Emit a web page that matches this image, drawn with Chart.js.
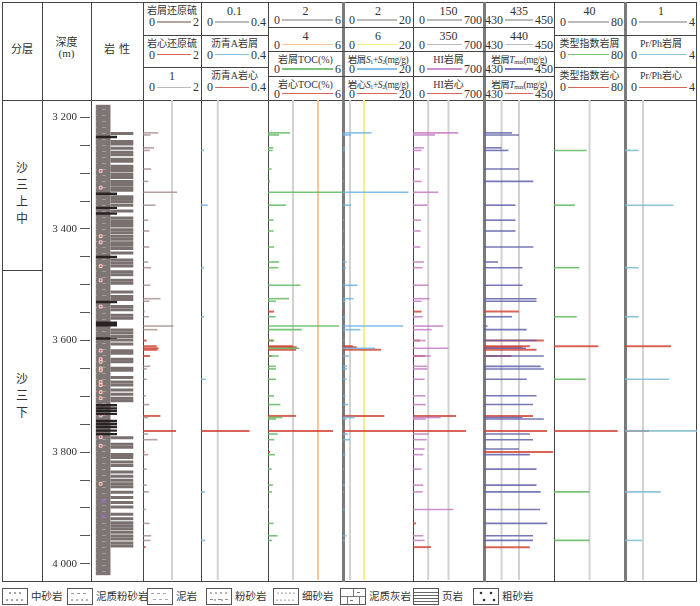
<!DOCTYPE html>
<html>
<head>
<meta charset="utf-8">
<script src="https://cdn.jsdelivr.net/npm/chart.js@4.4.0/dist/chart.umd.min.js"></script>
<style>
  body { margin: 0; background: #fff; font-family: "Liberation Serif", "Noto Sans CJK SC", serif; color: #333; }
  #page { position: relative; width: 700px; height: 606px; overflow: hidden; }
  canvas { position: absolute; }
  .cell-title { position: absolute; left: 0; width: 100%; text-align: center; white-space: nowrap; line-height: 12px; }
  .scale { position: absolute; left: 0; width: 100%; display: flex; align-items: center; font-size: 12px; line-height: 12px; box-sizing: border-box; }
  .scale .ln { flex: 1; height: 1.5px; margin: 0 2px; }
  sub { font-size: 6px; vertical-align: -1px; }
</style>
</head>
<body>
<div id="page"></div>
<script>
// ==============================
// Data
// ==============================

const DEPTH_MIN = 3186;
const DEPTH_MAX = 4012;

const depthLabels = [3200, 3400, 3600, 3800, 4000];

const zoneNames = ["沙三上中", "沙三下"];
const zoneBounds = [3186, 3474, 4012];
const zoneLabelDepth = [3338, 3701];

// lithology: sand/silt strips (long) and dark shale strips (short)
const lithoSand = [3191, 3207, 3212, 3220, 3228, 3233, 3242, 3246, 3256, 3260, 3265, 3272,
    3278, 3286, 3292, 3298, 3303, 3316, 3321, 3326, 3333, 3344, 3358, 3364, 3369, 3374,
    3381, 3387, 3394, 3400, 3407, 3412, 3418, 3427, 3441, 3447, 3453, 3464, 3470, 3481,
    3487, 3504, 3513, 3519, 3533, 3539, 3550, 3556, 3579, 3585, 3592, 3599, 3607, 3620,
    3625, 3637, 3642, 3655, 3659, 3673, 3682, 3688, 3698, 3706, 3714, 3719, 3792, 3805,
    3811, 3825, 3831, 3840, 3847, 3860, 3868, 3876, 3883, 3889, 3900, 3910, 3920, 3929,
    3943, 3952, 3960, 3966, 3972, 3979, 3986, 3992, 4000, 4006];
const lithoDark = [3198, 3310, 3338, 3349, 3435, 3524, 3565, 3570, 3596, 3728, 3734, 3739,
    3745, 3759, 3765, 3771, 3778, 3785];
const coreMarks = [3265, 3298, 3394, 3406, 3453, 3481, 3533, 3620, 3637, 3642, 3655, 3659,
    3682, 3688, 3702, 3714, 3748, 3791, 3808, 3883];
const purpleMarks = [3917, 3947];

// [depth, value]
const sulfurCut = [[3198, 0.53], [3202, 0.26], [3227, 0.38], [3232, 0.24], [3268, 0.28], [3292, 0.18],
    [3313, 1.18], [3338, 0.43], [3367, 0.18], [3388, 0.22], [3419, 0.22], [3448, 0.18], [3459, 0.28],
    [3493, 0.26], [3519, 0.6], [3524, 0.22], [3554, 0.2], [3572, 1.05], [3579, 0.5], [3650, 0.25],
    [3655, 0.13], [3675, 0.13], [3707, 0.1], [3724, 0.22], [3749, 0.18], [3781, 0.18], [3792, 0.5],
    [3821, 0.17], [3849, 0.13], [3880, 0.13], [3893, 0.2], [3927, 0.1], [3954, 0.23], [3978, 0.28],
    [3987, 0.26]];
const sulfurCore = [[3544, 0.05], [3600, 0.13], [3611, 0.47], [3615, 0.54], [3618, 0.5], [3630, 0.24],
    [3746, 0.6], [3775, 1.14], [3816, 0.05], [4000, 0.09]];

const asphaltCut = [[3232, 0.018], [3338, 0.04], [3459, 0.018], [3554, 0.018], [3675, 0.028],
    [3893, 0.024], [3987, 0.024]];
const asphaltCore = [[3775, 0.29]];

const tocCut = [[3198, 1.76], [3202, 0.88], [3227, 0.43], [3232, 0.37], [3268, 0.29], [3292, 0.16],
    [3313, 6.2], [3338, 1.44], [3367, 0.45], [3388, 0.45], [3419, 0.48], [3448, 0.9], [3459, 0.83],
    [3493, 2.6], [3519, 1.68], [3524, 0.64], [3554, 0.61], [3572, 5.68], [3579, 2.7], [3600, 0.5],
    [3615, 2.5], [3630, 0.85], [3650, 0.64], [3655, 0.64], [3675, 0.64], [3707, 0.48], [3724, 0.99],
    [3749, 1.15], [3752, 0.64], [3781, 0.77], [3792, 0.5], [3810, 0.05], [3821, 0.56], [3849, 0.29],
    [3880, 0.4], [3893, 0.32], [3927, 0.08], [3954, 0.45], [3978, 0.77], [3987, 0.32]];
const tocCore = [[3544, 0.48], [3600, 0.43], [3611, 2.0], [3613, 2.3], [3618, 2.24], [3630, 0.3],
    [3746, 2.24], [3775, 5.2], [3816, 0.16], [4000, 0.05]];

const s12Cut = [[3198, 8.2], [3202, 2.3], [3227, 0.6], [3232, 0.5], [3268, 0.2], [3292, 0.2],
    [3313, 18.7], [3338, 2.3], [3367, 0.3], [3388, 0.3], [3419, 0.3], [3448, 1.0], [3459, 0.9],
    [3493, 4.1], [3519, 3.0], [3524, 0.7], [3554, 0.7], [3572, 17.2], [3579, 5.0], [3600, 0.5],
    [3615, 9.1], [3630, 1.6], [3650, 1.2], [3655, 1.2], [3675, 1.0], [3707, 0.7], [3724, 1.5],
    [3749, 3.3], [3752, 1.0], [3781, 1.4], [3792, 2.0], [3821, 0.7], [3849, 0.3], [3880, 0.5],
    [3893, 0.3], [3927, 0.5], [3978, 1.0], [3987, 0.5]];
const s12Core = [[3544, 0.4], [3600, 0.5], [3611, 2.8], [3613, 3.9], [3618, 10.9], [3630, 0.5],
    [3746, 11.8], [3775, 20.5]];

const hiCut = [[3198, 447], [3202, 217], [3227, 108], [3232, 85], [3268, 69], [3292, 85], [3313, 250],
    [3338, 141], [3367, 79], [3388, 76], [3419, 72], [3448, 108], [3459, 95], [3493, 154], [3519, 164],
    [3524, 85], [3554, 95], [3572, 299], [3579, 184], [3600, 125], [3615, 348], [3630, 174], [3650, 141],
    [3655, 141], [3675, 115], [3707, 122], [3724, 128], [3749, 273], [3752, 125], [3781, 154],
    [3792, 135], [3810, 115], [3821, 102], [3849, 85], [3880, 102], [3893, 95], [3927, 398],
    [3978, 102], [3987, 115]];
const hiCore = [[3544, 85], [3600, 69], [3630, 118], [3746, 424], [3775, 522], [3954, 30], [4000, 177]];

const tmaxCut = [[3198, 438], [3202, 440], [3227, 435], [3232, 437], [3268, 440], [3292, 444.1],
    [3338, 439], [3367, 439], [3388, 439], [3419, 444.1], [3448, 434], [3459, 441], [3493, 441],
    [3519, 445], [3524, 445], [3554, 438], [3572, 431], [3579, 442.2], [3600, 445], [3615, 442],
    [3630, 447.1], [3650, 446.2], [3655, 447.1], [3675, 442.2], [3707, 445], [3724, 444], [3749, 441],
    [3752, 447.1], [3781, 443.1], [3792, 444], [3810, 440], [3821, 443.1], [3849, 445], [3880, 445],
    [3893, 446.2], [3927, 446], [3954, 448.1], [3978, 444], [3987, 444]];
const tmaxCore = [[3544, 440], [3600, 447.1], [3611, 443.1], [3613, 441], [3618, 445], [3630, 437.9],
    [3746, 444], [3775, 448], [3816, 449.8], [4000, 443.1]];

const typeCut = [[3232, 36.8], [3338, 23.7], [3459, 28.6], [3554, 25.6], [3675, 36], [3893, 39.8], [3987, 40]];
const typeCore = [[3611, 50], [3775, 71.8]];

const prphCut = [[3232, 0.76], [3338, 2.69], [3459, 0.76], [3554, 0.76], [3675, 2.46], [3775, 4.1],
    [3893, 1.98], [3987, 0.96]];
const prphCore = [[3611, 2.56], [3775, 1.35]];

const legendNames = ["中砂岩", "泥质粉砂岩", "泥岩", "粉砂岩", "细砂岩", "泥质灰岩", "页岩", "粗砂岩"];

// ==============================
// Styles / layout
// ==============================

const COL = {
    sulfur: "rgba(160,132,132,0.75)",
    core: "rgba(206,62,46,0.8)",
    blue: "rgba(110,180,228,0.85)",
    green: "rgba(96,184,96,0.85)",
    purple: "rgba(196,124,196,0.85)",
    indigo: "rgba(96,96,170,0.85)",
    teal: "rgba(130,190,210,0.9)",
    ref: "#d2d2d2",
    orange: "#f8c69a",
    yellow: "#f6ee86"
};

const TOP = 100;
const H = 480;
const CUT_W = 1.6;
const CORE_W = 2;
const page = document.getElementById("page");

function box(x, y, w, h, css) {
    const d = document.createElement("div");
    d.style.cssText = `position:absolute;left:${x}px;top:${y}px;width:${w}px;height:${h}px;${css || ""}`;
    page.appendChild(d);
    return d;
}

function makeCanvas(x, w) {
    const c = document.createElement("canvas");
    c.width = w;
    c.height = H;
    c.style.left = x + "px";
    c.style.top = TOP + "px";
    c.style.width = w + "px";
    c.style.height = H + "px";
    page.appendChild(c);
    return c;
}

const depthAxis = { type: "linear", min: DEPTH_MIN, max: DEPTH_MAX, reverse: true, display: false };

function refPlugin(lines) {
    return {
        id: "refLines",
        beforeDatasetsDraw(chart) {
            const { ctx, chartArea, scales } = chart;
            lines.forEach(l => {
                const px = scales.x.getPixelForValue(l.v);
                ctx.save();
                ctx.strokeStyle = l.c;
                ctx.lineWidth = 2;
                ctx.beginPath();
                ctx.moveTo(px, chartArea.top);
                ctx.lineTo(px, chartArea.bottom);
                ctx.stroke();
                ctx.restore();
            });
        }
    };
}

function barSet(pairs, color, base, thick) {
    return {
        data: pairs.map(p => ({ y: p[0], x: base === undefined ? p[1] : [base, p[1]] })),
        backgroundColor: color,
        barThickness: thick || CUT_W,
        inflateAmount: 0,
        grouped: false
    };
}

function makeColumn(x, w, xmin, xmax, datasets, refs) {
    const c = makeCanvas(x, w);
    return new Chart(c, {
        type: "bar",
        data: { datasets: datasets },
        options: {
            indexAxis: "y",
            responsive: false,
            animation: false,
            events: [],
            layout: { padding: 0 },
            scales: {
                x: { type: "linear", min: xmin, max: xmax, display: false },
                y: depthAxis
            },
            plugins: { legend: { display: false }, tooltip: { enabled: false } }
        },
        plugins: [refPlugin(refs)]
    });
}

// ==============================
// Frame and header
// ==============================

box(2, 2, 695, 580, "border:1px solid #444;box-sizing:border-box;");
box(2, TOP, 695, 1, "background:#444;");

const colEdges = [42, 91, 143, 201, 268, 343, 413, 484, 554, 625];
const thickEdges = [343, 484, 625];
colEdges.forEach(e => {
    if (thickEdges.includes(e)) box(e - 1, 2, 2.5, 580, "background:#7a7a7a;");
    else box(e, 2, 1, 580, "background:#444;");
});

box(2, 40, 40, 16, "text-align:center;font-size:11px;").textContent = "分层";
box(42, 33, 49, 14, "text-align:center;font-size:11px;").textContent = "深度";
box(42, 47, 49, 14, "text-align:center;font-size:11px;").textContent = "(m)";
box(91, 40, 52, 16, "text-align:center;font-size:11px;letter-spacing:4px;text-indent:4px;").textContent = "岩性";

const headerCols = [
    { x: 143, w: 58, lo: "0", hi: "2", rows: [["岩屑还原硫", COL.sulfur], ["岩心还原硫", COL.core], ["1", "#bbb"]] },
    { x: 201, w: 67, lo: "0", hi: "0.4", rows: [["0.1", "#bbb"], ["沥青A岩屑", COL.blue], ["沥青A岩心", COL.core]] },
    { x: 268, w: 75, lo: "0", hi: "6", rows: [["2", "#bbb"], ["4", COL.orange], ["岩屑TOC(%)", COL.green], ["岩心TOC(%)", COL.core]] },
    { x: 343, w: 70, lo: "0", hi: "20", rows: [["2", "#bbb"], ["6", COL.yellow],
        ["岩屑<i>S</i><sub>1</sub>+<i>S</i><sub>2</sub>(mg/g)", COL.blue], ["岩心<i>S</i><sub>1</sub>+<i>S</i><sub>2</sub>(mg/g)", COL.core]] },
    { x: 413, w: 71, lo: "0", hi: "700", rows: [["150", "#bbb"], ["350", "#bbb"], ["HI岩屑", COL.purple], ["HI岩心", COL.core]] },
    { x: 484, w: 70, lo: "430", hi: "450", rows: [["435", "#bbb"], ["440", "#bbb"],
        ["岩屑<i>T</i><sub>max</sub>(mg/g)", COL.indigo], ["岩屑<i>T</i><sub>max</sub>(mg/g)", COL.core]] },
    { x: 554, w: 71, lo: "0", hi: "80", rows: [["40", "#bbb"], ["类型指数岩屑", COL.green], ["类型指数岩心", COL.core]] },
    { x: 625, w: 72, lo: "0", hi: "4", rows: [["1", "#bbb"], ["Pr/Ph岩屑", COL.teal], ["Pr/Ph岩心", COL.core]] }
];

headerCols.forEach(col => {
    const n = col.rows.length;
    const rh = 98 / n;
    col.rows.forEach((r, i) => {
        const y = 2 + i * rh;
        if (i > 0) box(col.x, y, col.w, 1, "background:#444;");
        const cell = box(col.x, y, col.w, rh, "");
        const isNum = /^[0-9.]+$/.test(r[0]);
        const t = document.createElement("div");
        t.className = "cell-title";
        t.style.top = "3px";
        t.style.fontSize = isNum ? "12px" : (r[0].length > 12 ? "9.5px" : "10px");
        if (r[0].length > 12) t.style.letterSpacing = "-0.4px";
        t.innerHTML = r[0];
        cell.appendChild(t);
        const s = document.createElement("div");
        s.className = "scale";
        s.style.top = (n === 4 ? 12 : 14) + "px";
        s.style.padding = col.lo.length > 1 ? "0 1px 0 1px" : "0 2px 0 6px";
        s.innerHTML = `<span>${col.lo}</span><span class="ln" style="background:${r[1]}"></span><span>${col.hi}</span>`;
        cell.appendChild(s);
    });
});

// ==============================
// Depth axis and zones
// ==============================

const depthChart = new Chart(makeCanvas(42, 49), {
    type: "scatter",
    data: { datasets: [] },
    options: {
        responsive: false,
        animation: false,
        events: [],
        layout: { padding: 0 },
        scales: {
            x: { display: false },
            y: {
                type: "linear",
                position: "left",
                min: DEPTH_MIN,
                max: DEPTH_MAX,
                reverse: true,
                afterFit(scale) { scale.width = 48; },
                ticks: {
                    stepSize: 50,
                    includeBounds: false,
                    autoSkip: false,
                    padding: 3,
                    color: "#333",
                    font: { family: "Liberation Serif", size: 11 },
                    callback: v => depthLabels.includes(v) ? String(v).replace(/(\d)(\d{3})$/, "$1 $2") : ""
                },
                grid: { drawOnChartArea: false, drawTicks: true, tickLength: 10, color: "#555", lineWidth: 1 },
                border: { display: false }
            }
        },
        plugins: { legend: { display: false }, tooltip: { enabled: false } }
    }
});

const ys = depthChart.scales.y;
zoneBounds.slice(1, -1).forEach(d => {
    box(2, TOP + ys.getPixelForValue(d), 40, 1, "background:#444;");
});
zoneNames.forEach((name, i) => {
    const cy = TOP + ys.getPixelForValue(zoneLabelDepth[i]);
    const hgt = name.length * 17;
    const el = box(2, cy - hgt / 2, 40, hgt, "text-align:center;font-size:12px;line-height:17px;");
    el.innerHTML = name.split("").join("<br>");
});

// ==============================
// Lithology column
// ==============================

const lithoBase = {
    id: "lithoBase",
    beforeDatasetsDraw(chart) {
        const { ctx, chartArea, scales } = chart;
        const x0 = scales.x.getPixelForValue(0);
        const x1 = scales.x.getPixelForValue(18);
        const tile = document.createElement("canvas");
        tile.width = 9;
        tile.height = 6;
        const t = tile.getContext("2d");
        t.fillStyle = "#7e7575";
        t.fillRect(0, 0, 9, 6);
        t.fillStyle = "#a39a9a";
        t.fillRect(2, 3, 4, 1);
        ctx.save();
        ctx.fillStyle = ctx.createPattern(tile, "repeat");
        ctx.fillRect(x0, chartArea.top, x1 - x0, chartArea.bottom - chartArea.top);
        ctx.restore();
    }
};

new Chart(makeCanvas(91, 52), {
    type: "bar",
    data: {
        datasets: [
            {
                data: lithoSand.map(d => ({ y: d, x: [18, 46] })),
                backgroundColor: "#7a7070",
                barThickness: 3,
                inflateAmount: 0,
                grouped: false
            },
            {
                data: lithoDark.map(d => ({ y: d, x: [0, 26] })),
                backgroundColor: "#2a2323",
                barThickness: 2.4,
                inflateAmount: 0,
                grouped: false
            },
            {
                type: "scatter",
                data: coreMarks.map(d => ({ x: 6, y: d })),
                pointStyle: "rect",
                pointRadius: 2,
                backgroundColor: "#e0604e",
                borderColor: "#f4f0f0",
                borderWidth: 0.8
            },
            {
                type: "scatter",
                data: purpleMarks.map(d => ({ x: 9, y: d })),
                pointStyle: "rect",
                pointRadius: 2.4,
                backgroundColor: "#9a6ac0",
                borderWidth: 0
            }
        ]
    },
    options: {
        indexAxis: "y",
        responsive: false,
        animation: false,
        events: [],
        layout: { padding: 0 },
        scales: {
            x: { type: "linear", min: 0, max: 52, display: false },
            y: depthAxis
        },
        plugins: { legend: { display: false }, tooltip: { enabled: false } }
    },
    plugins: [lithoBase]
});

// ==============================
// Data columns
// ==============================

makeColumn(143, 58, 0, 2,
    [barSet(sulfurCut, COL.sulfur), barSet(sulfurCore, COL.core, undefined, CORE_W)],
    [{ v: 1, c: COL.ref }]);

makeColumn(201, 67, 0, 0.4,
    [barSet(asphaltCut, COL.blue), barSet(asphaltCore, COL.core, undefined, CORE_W)],
    [{ v: 0.1, c: COL.ref }]);

makeColumn(268, 75, 0, 6,
    [barSet(tocCut, COL.green), barSet(tocCore, COL.core, undefined, CORE_W)],
    [{ v: 2, c: COL.ref }, { v: 4, c: COL.orange }]);

makeColumn(343, 70, 0, 20,
    [barSet(s12Cut, COL.blue), barSet(s12Core, COL.core, undefined, CORE_W)],
    [{ v: 2, c: COL.ref }, { v: 6, c: COL.yellow }]);

makeColumn(413, 71, 0, 700,
    [barSet(hiCut, COL.purple), barSet(hiCore, COL.core, undefined, CORE_W)],
    [{ v: 150, c: COL.ref }, { v: 350, c: COL.ref }]);

makeColumn(484, 70, 430, 450,
    [barSet(tmaxCut, COL.indigo, 430), barSet(tmaxCore, COL.core, 430, CORE_W)],
    [{ v: 435, c: COL.ref }, { v: 440, c: COL.ref }]);

makeColumn(554, 71, 0, 80,
    [barSet(typeCut, COL.green), barSet(typeCore, COL.core, undefined, CORE_W)],
    [{ v: 40, c: COL.ref }]);

makeColumn(625, 72, 0, 4,
    [barSet(prphCut, COL.teal), barSet(prphCore, COL.core, undefined, CORE_W)],
    [{ v: 1, c: COL.ref }]);

// ==============================
// Legend
// ==============================

const legendBoxX = [2, 67, 147, 206, 273, 340, 413, 473];

function dots(ctx, y, xs, r) {
    xs.forEach(x => { ctx.beginPath(); ctx.arc(x, y, r, 0, Math.PI * 2); ctx.fill(); });
}
function dashes(ctx, y, xs, len) {
    xs.forEach(x => ctx.fillRect(x, y, len, 1));
}

function drawSwatch(ctx, i) {
    ctx.fillStyle = "#fff";
    ctx.fillRect(0, 0, 26, 17);
    ctx.strokeStyle = "#555";
    ctx.lineWidth = 1;
    ctx.strokeRect(0.5, 0.5, 25, 16);
    ctx.fillStyle = "#333";
    if (i === 0) { dots(ctx, 5, [8, 13, 18], 0.8); dots(ctx, 12, [5, 10, 15, 20], 0.8); }
    if (i === 1) { ctx.fillStyle = "#999"; dashes(ctx, 5, [4, 10, 16], 3); ctx.fillStyle = "#333"; dots(ctx, 12, [5, 10, 15, 20], 0.7); }
    if (i === 2) { ctx.fillStyle = "#aaa"; dashes(ctx, 5, [4, 10, 16], 3); dashes(ctx, 11, [6, 12, 18], 3); }
    if (i === 3) { dots(ctx, 5, [5, 10, 15, 20], 0.7); ctx.fillStyle = "#888"; dashes(ctx, 11, [4, 12, 19], 3); ctx.fillStyle = "#333"; dots(ctx, 12, [9, 16], 0.7); }
    if (i === 4) { dots(ctx, 5, [5, 9, 13, 17, 21], 0.6); dots(ctx, 12, [4, 8, 12, 16, 20], 0.6); }
    if (i === 5) {
        ctx.fillStyle = "#777";
        ctx.fillRect(1, 8, 24, 1);
        ctx.fillRect(13, 1, 1, 7);
        ctx.fillRect(7, 9, 1, 7);
        ctx.fillRect(19, 9, 1, 7);
        dashes(ctx, 4, [17], 3);
        dashes(ctx, 12, [10], 3);
    }
    if (i === 6) { ctx.fillStyle = "#666"; [4, 7, 10, 13].forEach(y => ctx.fillRect(1, y, 24, 1)); }
    if (i === 7) { dots(ctx, 5, [8, 18], 1.3); dots(ctx, 12, [11, 21], 1.3); }
}

legendNames.forEach((name, i) => {
    const c = document.createElement("canvas");
    c.width = 26;
    c.height = 17;
    c.style.left = legendBoxX[i] + "px";
    c.style.top = "588px";
    page.appendChild(c);
    drawSwatch(c.getContext("2d"), i);
    const lab = box(legendBoxX[i] + 29, 589, 70, 15, "font-size:10.5px;line-height:15px;white-space:nowrap;");
    lab.textContent = name;
});
</script>
</body>
</html>
